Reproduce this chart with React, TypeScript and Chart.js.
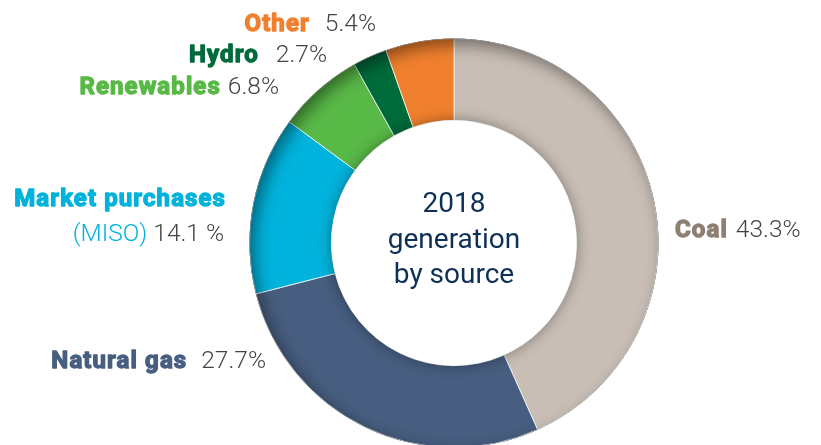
import React, { useEffect, useRef } from "react";
import { Chart, registerables } from "chart.js";

Chart.register(...registerables);

// ---- data ----
const categories = ["Coal", "Natural gas", "Market purchases (MISO)", "Renewables", "Hydro", "Other"];
const shares = [43.3, 27.7, 14.1, 6.8, 2.7, 5.4];
const shareLabels = ["43.3%", "27.7%", "14.1 %", "6.8%", "2.7%", "5.4%"];
const centerLines = ["2018", "generation", "by source"];

// ---- styles ----
const sliceColors = ["#c8beb5", "#475e80", "#00b3dc", "#58b947", "#006b3a", "#f1802e"];
const nameColors = ["#8d7f72", "#475e80", "#00b3dc", "#58b947", "#006b3a", "#f1802e"];
const pctColor = "#444444";
const centerColor = "#0e2f56";
const NAME_FONT = "700 24px Roboto";
const PCT_FONT = "300 24.5px Roboto";
const NAME_SPACING = "1.1px";
const NAME_STROKE = 1.3;

// label layout (baseline y; x is left edge for "left", right edge of percentage for "right")
const labelLayout = [
  { x: 675, y: 237, align: "left", gap: 8 },
  { x: 266, y: 368, align: "right", gap: 14 },
  { x: 224, y: 241, align: "right", gap: 6, twoLine: true, line1X: 226, line1Y: 206 },
  { x: 279, y: 94, align: "right", gap: 7 },
  { x: 327, y: 62, align: "right", gap: 17 },
  { x: 376, y: 31, align: "right", gap: 15 },
];

function drawName(ctx: CanvasRenderingContext2D, text: string, x: number, y: number, color: string) {
  ctx.save();
  ctx.font = NAME_FONT;
  (ctx as any).letterSpacing = NAME_SPACING;
  ctx.fillStyle = color;
  ctx.strokeStyle = color;
  ctx.lineWidth = NAME_STROKE;
  ctx.lineJoin = "round";
  ctx.fillText(text, x, y);
  ctx.strokeText(text, x, y);
  ctx.restore();
}

function nameWidth(ctx: CanvasRenderingContext2D, text: string) {
  ctx.save();
  ctx.font = NAME_FONT;
  (ctx as any).letterSpacing = NAME_SPACING;
  const w = ctx.measureText(text).width;
  ctx.restore();
  return w;
}

const decorPlugin = {
  id: "decor",
  afterDatasetsDraw(chart: any) {
    const meta = chart.getDatasetMeta(0);
    const arc = meta.data[0];
    if (!arc) return;
    const { x, y, innerRadius, outerRadius } = arc.getProps(["x", "y", "innerRadius", "outerRadius"], true);
    const ctx: CanvasRenderingContext2D = chart.ctx;

    // soft inner shadow along the outer rim (light from upper-left)
    ctx.save();
    ctx.beginPath();
    ctx.arc(x, y, outerRadius, 0, Math.PI * 2);
    ctx.clip();
    ctx.beginPath();
    ctx.arc(x, y, outerRadius + 80, 0, Math.PI * 2);
    ctx.arc(x, y, outerRadius, 0, Math.PI * 2, true);
    ctx.shadowColor = "rgba(0,0,0,0.45)";
    ctx.shadowBlur = 16;
    ctx.shadowOffsetX = 5;
    ctx.shadowOffsetY = 6;
    ctx.fillStyle = "#000";
    ctx.fill("evenodd");
    ctx.restore();

    // white hole with a soft shadow cast on the ring
    ctx.save();
    ctx.beginPath();
    ctx.arc(x, y, innerRadius, 0, Math.PI * 2);
    ctx.shadowColor = "rgba(0,0,0,0.38)";
    ctx.shadowBlur = 14;
    ctx.fillStyle = "#ffffff";
    ctx.fill();
    ctx.restore();

    // center text
    ctx.save();
    ctx.fillStyle = centerColor;
    ctx.font = "400 28px Roboto";
    ctx.textAlign = "center";
    ctx.textBaseline = "alphabetic";
    const offs = [-31, 5, 40];
    centerLines.forEach((t, i) => ctx.fillText(t, x, y + offs[i]));
    ctx.restore();
  },
  afterDraw(chart: any) {
    const ctx: CanvasRenderingContext2D = chart.ctx;
    ctx.save();
    ctx.textBaseline = "alphabetic";
    ctx.textAlign = "left";
    categories.forEach((name, i) => {
      const L: any = labelLayout[i];
      const pct = shareLabels[i];
      ctx.font = PCT_FONT;
      const pw = ctx.measureText(pct).width;
      if (L.twoLine) {
        const cut = name.indexOf(" (");
        const first = name.slice(0, cut);
        const second = name.slice(cut + 1);
        drawName(ctx, first, L.line1X - nameWidth(ctx, first), L.line1Y, nameColors[i]);
        ctx.font = PCT_FONT;
        ctx.fillStyle = pctColor;
        ctx.fillText(pct, L.x - pw, L.y);
        const sw = ctx.measureText(second).width;
        ctx.fillStyle = nameColors[i];
        ctx.fillText(second, L.x - pw - L.gap - sw, L.y);
        return;
      }
      const nw = nameWidth(ctx, name);
      if (L.align === "left") {
        drawName(ctx, name, L.x, L.y, nameColors[i]);
        ctx.font = PCT_FONT;
        ctx.fillStyle = pctColor;
        ctx.fillText(pct, L.x + nw + L.gap, L.y);
      } else {
        ctx.font = PCT_FONT;
        ctx.fillStyle = pctColor;
        ctx.fillText(pct, L.x - pw, L.y);
        drawName(ctx, name, L.x - pw - L.gap - nw, L.y, nameColors[i]);
      }
    });
    ctx.restore();
  },
};

export default function App() {
  const ref = useRef<HTMLCanvasElement | null>(null);
  useEffect(() => {
    if (!ref.current) return;
    const chart = new Chart(ref.current, {
      type: "doughnut",
      data: {
        labels: categories,
        datasets: [
          {
            data: shares,
            backgroundColor: sliceColors,
            borderColor: "rgba(255,255,255,0.75)",
            borderWidth: 1,
            hoverOffset: 0,
          },
        ],
      },
      options: {
        responsive: false,
        animation: false,
        events: [],
        cutout: "60%",
        rotation: 0,
        layout: { padding: { left: 249, right: 162, top: 38, bottom: 52 } },
        plugins: { legend: { display: false }, tooltip: { enabled: false } },
      },
      plugins: [decorPlugin],
    });
    return () => chart.destroy();
  }, []);
  return (
    <div
      style={{
        position: "fixed",
        left: 0,
        top: 0,
        width: 821,
        height: 445,
        overflow: "hidden",
        background: "#ffffff",
      }}
    >
      <canvas ref={ref} width={821} height={500} style={{ display: "block" }} />
    </div>
  );
}
